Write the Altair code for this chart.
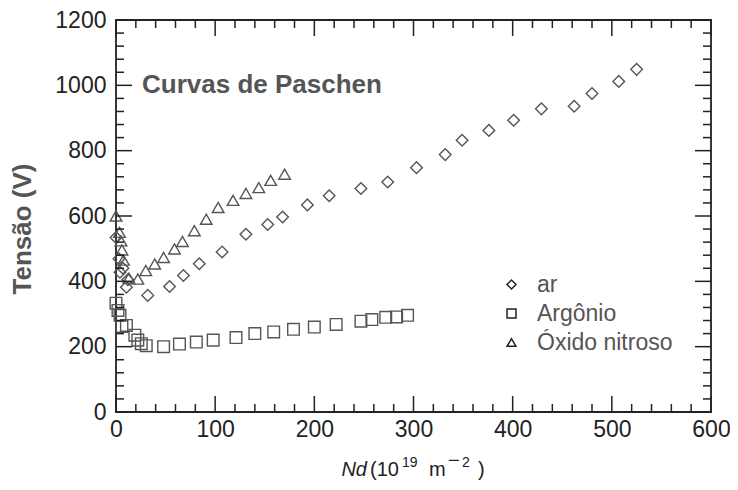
import altair as alt
import pandas as pd

# ---- data ----
ar_x = [0, 3, 4, 7, 10.5, 12, 32, 54, 68, 84, 107, 131, 153, 168, 193, 215, 247, 274, 303, 332, 349, 376, 401, 429, 462, 480, 507, 525]
ar_v = [534, 469, 428, 440, 382, 405, 357, 384, 418, 454, 490, 544, 574, 597, 634, 662, 684, 704, 748, 788, 832, 862, 893, 928, 936, 975, 1012, 1049]

argon_x = [0, 2, 4, 6, 10.5, 19, 22, 25.5, 30.5, 48, 64, 81, 98, 121, 140, 159, 179, 200, 222, 247, 258, 272, 283, 294]
argon_v = [333, 311, 296, 262, 265, 235, 220, 209, 203, 200, 208, 214, 220, 228, 240, 245, 253, 260, 268, 278, 283, 290, 291, 296]

n2o_x = [0, 3.5, 5, 6, 7.5, 13, 22, 30, 39, 48, 59, 67, 79, 91, 103, 118, 131, 144, 156, 170]
n2o_v = [600, 550, 524, 496, 465, 410, 407, 433, 453, 473, 499, 522, 555, 590, 626, 648, 669, 687, 709, 728]

series_names = ["ar", "Argônio", "Óxido nitroso"]
series_shapes = ["diamond", "square", "triangle-up"]

x_major = [0, 100, 200, 300, 400, 500, 600]
x_minor = [v for v in range(0, 601, 20) if v % 100 != 0]
y_major = [0, 200, 400, 600, 800, 1000, 1200]
y_minor = [v for v in range(0, 1201, 40) if v % 200 != 0]

# ---- tables ----
df = pd.concat([
    pd.DataFrame({"x": ar_x, "v": ar_v, "gas": series_names[0]}),
    pd.DataFrame({"x": argon_x, "v": argon_v, "gas": series_names[1]}),
    pd.DataFrame({"x": n2o_x, "v": n2o_v, "gas": series_names[2]}),
])

W, H = 595, 392
INK = "#222222"
GRAY = "#555555"
FONT = "Liberation Sans, Arial, Helvetica"

xs = alt.Scale(domain=[0, 600], nice=False, zero=False)
ys = alt.Scale(domain=[0, 1200], nice=False, zero=False)

points = alt.Chart(df).mark_point(filled=False, color=GRAY, strokeWidth=1.4, size=135, opacity=1).encode(
    x=alt.X("x:Q", scale=xs, axis=alt.Axis(values=x_major, format="d", ticks=False, domain=False, grid=False,
                                           labelFont=FONT, labelFontSize=23, labelColor=INK,
                                           labelFlush=False, labelOverlap=False,
                                           labelPadding=6, title=None)),
    y=alt.Y("v:Q", scale=ys, axis=alt.Axis(values=y_major, format="d", ticks=False, domain=False, grid=False,
                                           labelFont=FONT, labelFontSize=23, labelColor=INK,
                                           labelFlush=False, labelOverlap=False,
                                           labelPadding=10, title=None)),
    shape=alt.Shape("gas:N", sort=series_names,
                    scale=alt.Scale(domain=series_names, range=series_shapes),
                    legend=alt.Legend(orient="none", legendX=384, legendY=253, title=None,
                                      labelFont=FONT, labelFontSize=23, labelColor=GRAY,
                                      symbolSize=80, symbolStrokeColor=INK, symbolStrokeWidth=1.5,
                                      symbolFillColor="transparent", rowPadding=5, labelOffset=14)),
)

def xticks(vals, length, top):
    d = pd.DataFrame({"t": vals})
    if top:
        yv, y2v = alt.value(0), alt.value(length)
    else:
        yv, y2v = alt.value(H), alt.value(H - length)
    return alt.Chart(d).mark_rule(color=INK, strokeWidth=1.5).encode(
        x=alt.X("t:Q", scale=xs), y=yv, y2=y2v)

def yticks(vals, length, right):
    d = pd.DataFrame({"t": vals})
    if right:
        xv, x2v = alt.value(W), alt.value(W - length)
    else:
        xv, x2v = alt.value(0), alt.value(length)
    return alt.Chart(d).mark_rule(color=INK, strokeWidth=1.5).encode(
        y=alt.Y("t:Q", scale=ys), x=xv, x2=x2v)

ticks = [
    xticks(x_major, 16, False), xticks(x_minor, 8, False),
    xticks(x_major, 16, True), xticks(x_minor, 8, True),
    yticks(y_major, 16, False), yticks(y_minor, 8, False),
    yticks(y_major, 16, True), yticks(y_minor, 8, True),
]

def label(text, x, y, size, **kw):
    return alt.Chart(pd.DataFrame({"s": [text]})).mark_text(
        fontSize=size, **kw).encode(x=alt.value(x), y=alt.value(y), text="s:N")

title = label("Curvas de Paschen", 26, 73, 26, font=FONT, fontWeight="bold",
              color=GRAY, align="left", baseline="alphabetic")
ytitle = label("Tensão (V)", -93, 209, 26, font=FONT, fontWeight="bold",
               color=GRAY, angle=270, align="center", baseline="middle")

xt_y = 456
xtitle = [
    label("Nd", 251, xt_y, 20, font=FONT, fontStyle="italic", color=INK, align="right", baseline="alphabetic"),
    label("(10", 254, xt_y, 20, font=FONT, color=INK, align="left", baseline="alphabetic"),
    label("19", 286, xt_y - 9, 14, font=FONT, color=INK, align="left", baseline="alphabetic"),
    label("m", 313, xt_y, 20, font=FONT, color=INK, align="left", baseline="alphabetic"),
    label("−", 332, xt_y - 9, 20, font=FONT, color=INK, align="left", baseline="alphabetic"),
    label("2", 346, xt_y - 9, 14, font=FONT, color=INK, align="left", baseline="alphabetic"),
    label(")", 362, xt_y, 20, font=FONT, color=INK, align="left", baseline="alphabetic"),
]

chart = alt.layer(points, *ticks, title, ytitle, *xtitle).properties(
    width=W, height=H,
    padding={"left": 108, "top": 12, "right": 19, "bottom": 70},
    autosize="none",
).configure_view(stroke=INK, strokeWidth=1.8)

chart.save("out.html", embed_options={"renderer": "svg", "actions": False})
